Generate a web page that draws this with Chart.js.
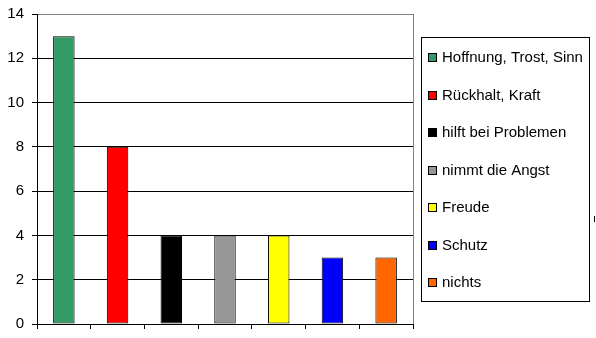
<!DOCTYPE html>
<html>
<head>
<meta charset="utf-8">
<script src="https://cdn.jsdelivr.net/npm/chart.js@4/dist/chart.umd.min.js"></script>
<style>
  html, body { margin: 0; padding: 0; background: #fff; }
  #wrap { width: 596px; height: 338px; position: relative; }
</style>
</head>
<body>
<div id="wrap"><canvas id="chart"></canvas></div>
<script>
// Antworten und Anzahl der Nennungen
const categories = ['Hoffnung, Trost, Sinn', 'Rückhalt, Kraft', 'hilft bei Problemen', 'nimmt die Angst', 'Freude', 'Schutz', 'nichts'];
const counts = [13, 8, 4, 4, 4, 3, 3];
const barColors = ['#339966', '#ff0000', '#000000', '#969696', '#ffff00', '#0000ff', '#ff6600'];
const yTicks = [0, 2, 4, 6, 8, 10, 12, 14];

const FONT = 'Liberation Sans, Arial, sans-serif';

// feste Achsengrößen, ohne Zusatzabstand für überstehende Beschriftungen
function fixSize(prop, size) {
    return s => {
        s[prop] = size;
        s.paddingTop = 0;
        s.paddingBottom = 0;
        s.paddingLeft = 0;
        s.paddingRight = 0;
    };
}

// Legende im Kasten rechts neben der Grafik, plus grauer Rahmen rechts am Plotbereich
const excelFrame = {
    id: 'excelFrame',
    afterDraw(chart) {
        const ctx = chart.ctx;
        const area = chart.chartArea;
        ctx.save();

        // rechter Rand des Plotbereichs
        ctx.strokeStyle = '#808080';
        ctx.lineWidth = 1;
        ctx.beginPath();
        ctx.moveTo(Math.round(area.right) + 0.5, area.top);
        ctx.lineTo(Math.round(area.right) + 0.5, area.bottom);
        ctx.stroke();

        // Legendenkasten
        const box = { x: 421.5, y: 37.5, w: 168, h: 264 };
        ctx.strokeStyle = '#000';
        ctx.strokeRect(box.x, box.y, box.w, box.h);

        ctx.font = '15px ' + FONT;
        ctx.textBaseline = 'middle';
        ctx.textAlign = 'left';
        categories.forEach((label, i) => {
            const cy = 57 + i * 37.5;
            ctx.fillStyle = barColors[i];
            ctx.fillRect(428, Math.round(cy - 4), 8, 8);
            ctx.strokeStyle = '#000';
            ctx.strokeRect(428.5, Math.round(cy - 4) + 0.5, 8, 8);
            ctx.fillStyle = '#000';
            ctx.fillText(label, 442, cy + 1);
        });

        // abgeschnittener Rest rechts am Rand
        ctx.beginPath();
        ctx.moveTo(594.5, 216);
        ctx.lineTo(594.5, 222);
        ctx.stroke();

        ctx.restore();
    }
};

new Chart(document.getElementById('chart'), {
    type: 'bar',
    data: {
        labels: categories,
        datasets: [{
            data: counts,
            backgroundColor: barColors,
            borderColor: '#000',
            borderWidth: 1,
            borderSkipped: false,
            categoryPercentage: 1,
            barPercentage: 0.4
        }]
    },
    options: {
        responsive: true,
        maintainAspectRatio: false,
        animation: false,
        layout: { autoPadding: false, padding: { left: 0, top: 14, right: 183, bottom: 0 } },
        plugins: {
            legend: { display: false },
            tooltip: { enabled: false }
        },
        scales: {
            x: {
                offset: true,
                grid: {
                    offset: true,
                    drawOnChartArea: false,
                    drawTicks: true,
                    tickLength: 5,
                    color: '#000'
                },
                border: { color: '#000' },
                ticks: { display: false },
                afterFit: fixSize('height', 14)
            },
            y: {
                min: 0,
                max: 14,
                afterBuildTicks: s => { s.ticks = yTicks.map(v => ({ value: v })); },
                grid: {
                    color: ctx => ctx.tick && ctx.tick.value === 14 ? '#808080' : '#000',
                    tickColor: '#000',
                    tickLength: 5,
                    lineWidth: 1
                },
                border: { color: '#000' },
                ticks: {
                    color: '#000',
                    padding: 8,
                    font: { family: FONT, size: 15 }
                },
                afterFit: fixSize('width', 37)
            }
        }
    },
    plugins: [excelFrame]
});
</script>
</body>
</html>
